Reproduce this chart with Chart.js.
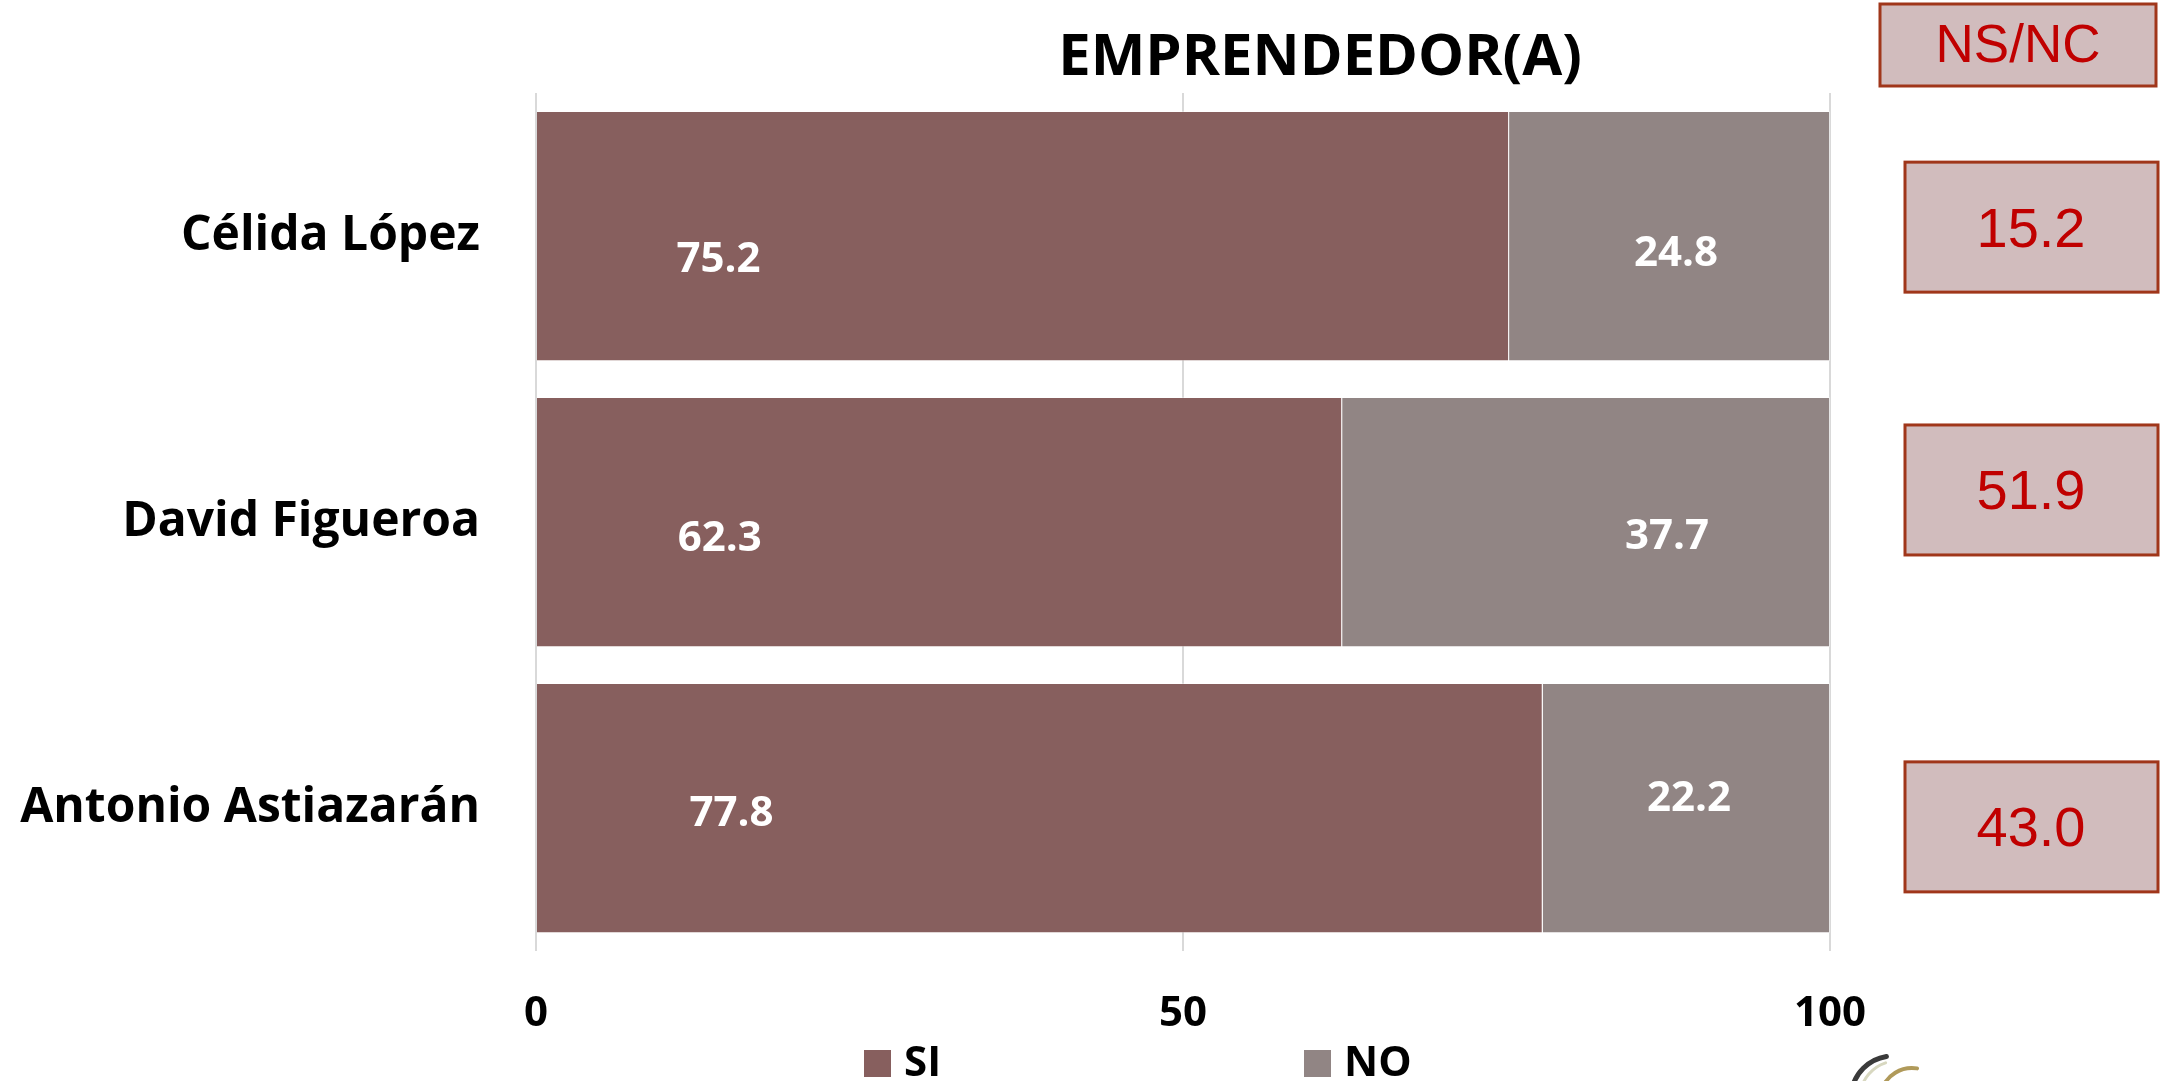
<!DOCTYPE html>
<html>
<head>
<meta charset="utf-8">
<script src="https://cdn.jsdelivr.net/npm/chart.js@4.4.1/dist/chart.umd.min.js"></script>
<style>
  html, body { margin: 0; padding: 0; background: #ffffff; }
  #wrap { width: 2179px; height: 1081px; position: relative; overflow: hidden; }
</style>
</head>
<body>
<div id="wrap"><canvas id="c" width="2179" height="1081"></canvas></div>
<script>
// ---- data ----
const categories = ['Célida López', 'David Figueroa', 'Antonio Astiazarán'];
const siValues = [75.2, 62.3, 77.8];
const noValues = [24.8, 37.7, 22.2];
const nsncValues = [15.2, 51.9, 43.0];
const seriesNames = ['SI', 'NO'];
const xTickValues = [0, 50, 100];
const chartTitle = 'EMPRENDEDOR(A)';
const nsncHeader = 'NS/NC';

// ---- label placement (value units on x, category units on y) ----
const siLabelAt = [14.1, 14.2, 15.1];
const noLabelAt = [88.1, 87.4, 89.1];
const siLabelShift = [0.077, 0.052, 0.014];
const noLabelShift = [0.056, 0.045, -0.037];
const nsncBoxShift = [-0.031, -0.112, 0.066];

const SI_COLOR = '#875F5E';
const NO_COLOR = '#918584';
const BOX_FILL = '#D1BCBD';
const BOX_STROKE = '#A0361A';
const RED = '#C00000';

const decorations = {
  id: 'decorations',
  afterDatasetsDraw(chart) {
    const ctx = chart.ctx;
    const xs = chart.scales.x, ys = chart.scales.y;
    ctx.save();
    ctx.fillStyle = '#ffffff';
    ctx.font = 'bold 42px "Open Sans"';
    ctx.textAlign = 'center';
    ctx.textBaseline = 'middle';
    for (let i = 0; i < categories.length; i++) {
      ctx.fillText(siValues[i].toFixed(1), xs.getPixelForValue(siLabelAt[i]), ys.getPixelForValue(i + siLabelShift[i]) + 2);
      ctx.fillText(noValues[i].toFixed(1), xs.getPixelForValue(noLabelAt[i]), ys.getPixelForValue(i + noLabelShift[i]) + 2);
    }
    ctx.restore();
  },
  afterDraw(chart) {
    const ctx = chart.ctx;
    const ys = chart.scales.y;
    ctx.save();
    // title
    ctx.fillStyle = '#000000';
    ctx.font = 'bold 58px "Open Sans"';
    ctx.textAlign = 'center';
    ctx.textBaseline = 'alphabetic';
    ctx.fillText(chartTitle, 1320, 75);

    function box(x, y, w, h) {
      ctx.fillStyle = BOX_FILL;
      ctx.fillRect(x, y, w, h);
      ctx.strokeStyle = BOX_STROKE;
      ctx.lineWidth = 3;
      ctx.strokeRect(x, y, w, h);
    }
    // NS/NC header box
    box(1880, 4, 276, 82);
    ctx.fillStyle = RED;
    ctx.font = '53px "Liberation Sans", Arial, sans-serif';
    ctx.textAlign = 'center';
    ctx.textBaseline = 'middle';
    ctx.fillText(nsncHeader, 2018, 47);

    // NS/NC value boxes
    ctx.font = '56px "Liberation Sans", Arial, sans-serif';
    for (let i = 0; i < nsncValues.length; i++) {
      const cy = ys.getPixelForValue(i + nsncBoxShift[i]);
      box(1905, cy - 65, 253, 130);
      ctx.fillStyle = RED;
      ctx.fillText(nsncValues[i].toFixed(1), 2031, cy + 4);
    }

    // legend
    const ds = chart.data.datasets;
    const legendX = [864, 1304];
    ctx.font = 'bold 42px "Open Sans"';
    ctx.textAlign = 'left';
    ctx.textBaseline = 'middle';
    for (let i = 0; i < ds.length; i++) {
      ctx.fillStyle = ds[i].backgroundColor;
      ctx.fillRect(legendX[i], 1050, 27, 27);
      ctx.fillStyle = '#000000';
      ctx.fillText(ds[i].label, legendX[i] + 40, 1064);
    }

    // partial logo at bottom
    ctx.lineCap = 'round';
    ctx.strokeStyle = '#3a3a3a';
    ctx.lineWidth = 5;
    ctx.beginPath();
    ctx.arc(1893, 1098, 42, Math.PI * 1.05, Math.PI * 1.45);
    ctx.stroke();
    ctx.strokeStyle = '#d8d8c0';
    ctx.lineWidth = 3;
    ctx.beginPath();
    ctx.arc(1897, 1098, 37, Math.PI * 1.05, Math.PI * 1.4);
    ctx.stroke();
    ctx.strokeStyle = '#B09A5A';
    ctx.lineWidth = 4;
    ctx.beginPath();
    ctx.arc(1912, 1100, 32, Math.PI * 1.1, Math.PI * 1.55);
    ctx.stroke();
    ctx.restore();
  }
};

function build() {
  new Chart(document.getElementById('c'), {
    type: 'bar',
    data: {
      labels: categories,
      datasets: [
        { label: seriesNames[0], data: siValues, backgroundColor: SI_COLOR, borderColor: 'rgba(255,255,255,0.35)', borderWidth: 1, barPercentage: 0.875, categoryPercentage: 1.0 },
        { label: seriesNames[1], data: noValues, backgroundColor: NO_COLOR, borderColor: 'rgba(255,255,255,0.35)', borderWidth: 1, barPercentage: 0.875, categoryPercentage: 1.0 }
      ]
    },
    options: {
      indexAxis: 'y',
      responsive: false,
      animation: false,
      devicePixelRatio: 1,
      layout: { padding: { top: 93, right: 349, bottom: 0, left: 0 } },
      plugins: {
        legend: { display: false },
        title: { display: false },
        tooltip: { enabled: false }
      },
      scales: {
        x: {
          stacked: true,
          min: 0,
          max: 100,
          afterBuildTicks(scale) { scale.ticks = xTickValues.map(v => ({ value: v })); },
          afterFit(scale) { scale.height = 130; },
          grid: { display: true, color: '#D9D9D9', lineWidth: 2, drawTicks: false },
          border: { display: false },
          ticks: {
            padding: 38,
            color: '#000000',
            font: { family: '"Open Sans"', size: 42, weight: 'bold' },
            maxRotation: 0
          }
        },
        y: {
          stacked: true,
          afterFit(scale) { scale.width = 536; },
          grid: { display: false, drawTicks: false },
          border: { display: false },
          ticks: {
            padding: 56,
            color: '#000000',
            font: { family: '"Open Sans"', size: 48, weight: 'bold' }
          }
        }
      }
    },
    plugins: [decorations]
  });
}

Promise.all([
  document.fonts.load('bold 48px "Open Sans"'),
  document.fonts.load('52px "Liberation Sans"')
]).then(build, build);
</script>
</body>
</html>
